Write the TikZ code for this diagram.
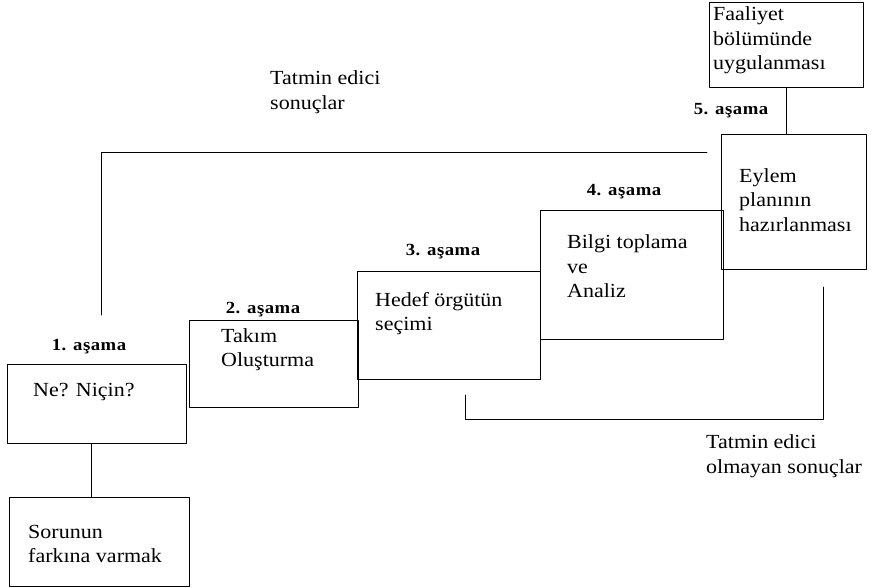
\documentclass[tikz,border=0pt]{standalone}
\usepackage{fontspec}
\setmainfont{Liberation Serif}[FakeStretch=1.1]
\begin{document}
\begin{tikzpicture}[x=1pt, y=-1pt, line join=round, line cap=round]
	\tikzset{stepbox/.style={draw, line width=0.8pt, anchor=north west, inner sep=0pt},
		txt/.style={anchor=west, align=left, inner sep=0pt, font=\fontsize{20}{24.5}\selectfont},
		lbl/.style={inner sep=0pt, font=\fontsize{17}{20}\selectfont\bfseries\addfontfeature{LetterSpace=3}}}
	\useasboundingbox (0,0) rectangle (880,587);
	\node[stepbox, minimum width=179pt, minimum height=79pt] (ne) at (7,364) {};
	\node[stepbox, minimum width=169pt, minimum height=87pt] (takim) at (189,320) {};
	\node[stepbox, minimum width=183pt, minimum height=108pt] (hedef) at (357,271) {};
	\node[stepbox, minimum width=183pt, minimum height=129pt] (bilgi) at (540,210) {};
	\node[stepbox, minimum width=145pt, minimum height=135pt] (eylem) at (721,134) {};
	\node[stepbox, minimum width=154pt, minimum height=85pt] (faaliyet) at (709,2) {};
	\node[stepbox, minimum width=180pt, minimum height=89pt] (sorun) at (9,497) {};
	\node[txt] (ne-t) at (33,392) {Ne? Niçin?};
	\node[txt] (takim-t) at (221,349.5) {Takım\\Oluşturma};
	\node[txt] (hedef-t) at (375,313.5) {Hedef örgütün\\seçimi};
	\node[txt] (bilgi-t) at (567,266.5) {Bilgi toplama\\ve\\Analiz};
	\node[txt] (eylem-t) at (739,200) {Eylem\\planının\\hazırlanması};
	\node[txt] (faaliyet-t) at (713,40.5) {Faaliyet\\bölümünde\\uygulanması};
	\node[txt] (sorun-t) at (28,544) {Sorunun\\farkına varmak};
	\node[lbl] (s1) at (89,347) {1. aşama};
	\node[lbl] (s2) at (263,310) {2. aşama};
	\node[lbl] (s3) at (443,252) {3. aşama};
	\node[lbl] (s4) at (624,192) {4. aşama};
	\node[lbl] (s5) at (731,111) {5. aşama};
	\node[txt] (ok-t) at (270,92) {Tatmin edici\\sonuçlar};
	\node[txt] (nok-t) at (706,456) {Tatmin edici\\olmayan sonuçlar};
	\draw[line width=0.8pt] ([xshift=-5.5pt]ne.south) -- ([xshift=-5.5pt]ne.south |- sorun.north);
	\draw[line width=0.8pt] (faaliyet.south) -- (faaliyet.south |- eylem.north);
	\coordinate (ok1) at (707,152); \coordinate (ok2) at (101,315);
	\draw[line width=0.8pt] (ok1) -| (ok2);
	\coordinate (nok1) at (823,287); \coordinate (nok2) at (465,395);
	\draw[line width=0.8pt] (nok1) -- ++(0,132) -| (nok2);
\end{tikzpicture}
\end{document}
